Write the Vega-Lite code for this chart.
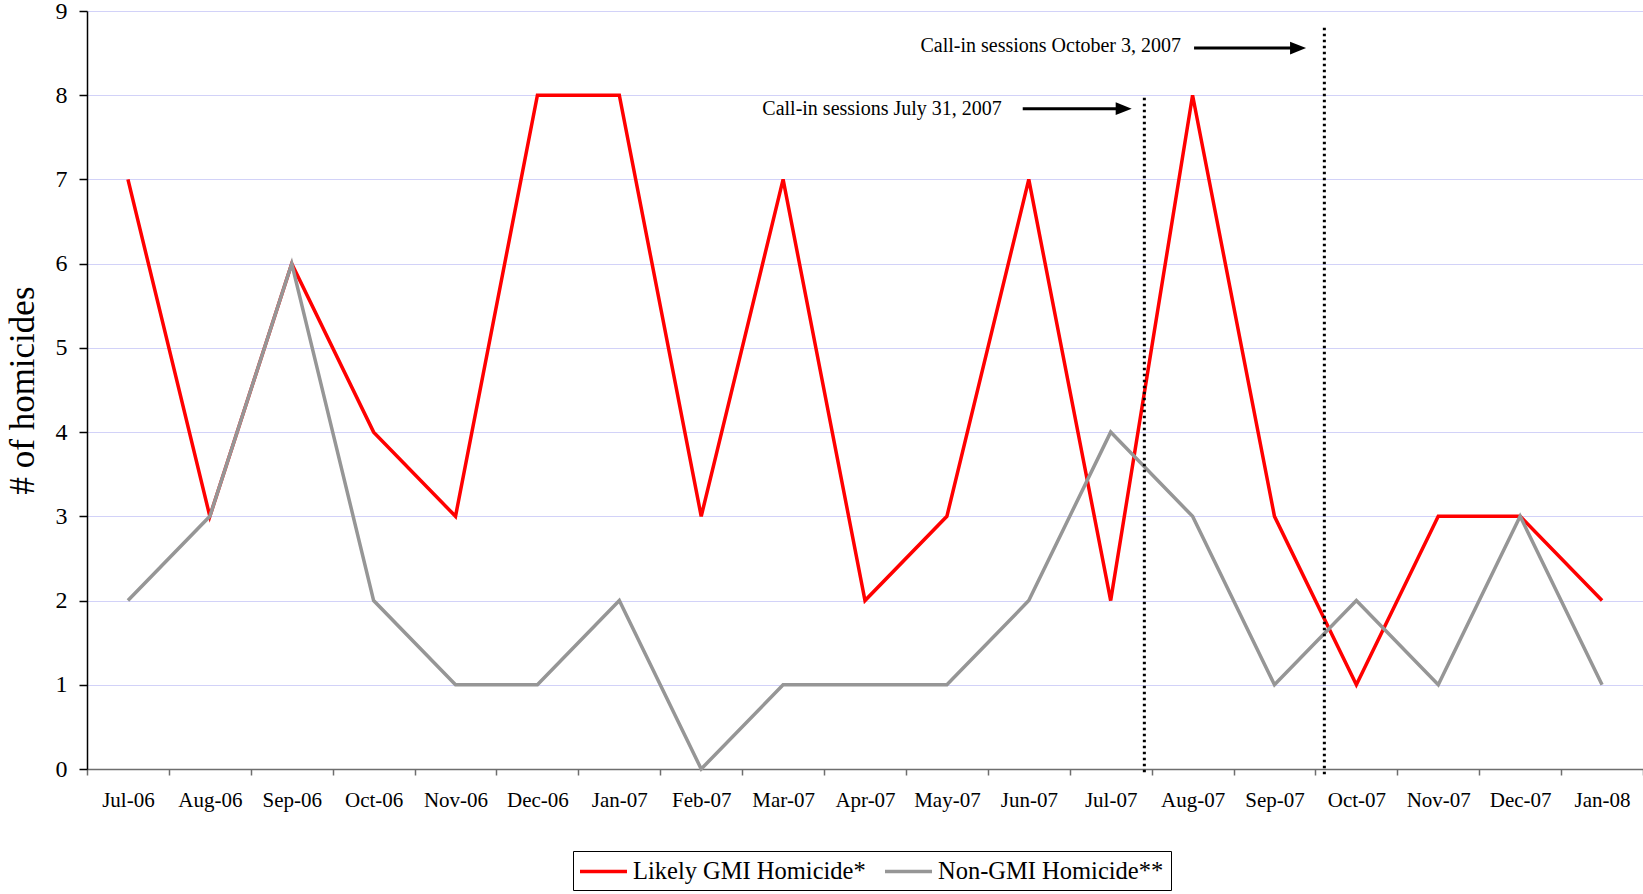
{
  "$schema": "https://vega.github.io/schema/vega-lite/v6.json",
  "width": 1556,
  "height": 758,
  "autosize": {"type": "none"},
  "padding": {"left": 87, "top": 11, "right": 0, "bottom": 125},
  "background": "white",
  "config": {"view": {"stroke": null}, "font": "Liberation Serif"},
  "datasets": {
    "counts": [
      {"month": "Jul-06", "series": "Likely GMI Homicide*", "count": 7},
      {"month": "Aug-06", "series": "Likely GMI Homicide*", "count": 3},
      {"month": "Sep-06", "series": "Likely GMI Homicide*", "count": 6},
      {"month": "Oct-06", "series": "Likely GMI Homicide*", "count": 4},
      {"month": "Nov-06", "series": "Likely GMI Homicide*", "count": 3},
      {"month": "Dec-06", "series": "Likely GMI Homicide*", "count": 8},
      {"month": "Jan-07", "series": "Likely GMI Homicide*", "count": 8},
      {"month": "Feb-07", "series": "Likely GMI Homicide*", "count": 3},
      {"month": "Mar-07", "series": "Likely GMI Homicide*", "count": 7},
      {"month": "Apr-07", "series": "Likely GMI Homicide*", "count": 2},
      {"month": "May-07", "series": "Likely GMI Homicide*", "count": 3},
      {"month": "Jun-07", "series": "Likely GMI Homicide*", "count": 7},
      {"month": "Jul-07", "series": "Likely GMI Homicide*", "count": 2},
      {"month": "Aug-07", "series": "Likely GMI Homicide*", "count": 8},
      {"month": "Sep-07", "series": "Likely GMI Homicide*", "count": 3},
      {"month": "Oct-07", "series": "Likely GMI Homicide*", "count": 1},
      {"month": "Nov-07", "series": "Likely GMI Homicide*", "count": 3},
      {"month": "Dec-07", "series": "Likely GMI Homicide*", "count": 3},
      {"month": "Jan-08", "series": "Likely GMI Homicide*", "count": 2},
      {"month": "Jul-06", "series": "Non-GMI Homicide**", "count": 2},
      {"month": "Aug-06", "series": "Non-GMI Homicide**", "count": 3},
      {"month": "Sep-06", "series": "Non-GMI Homicide**", "count": 6},
      {"month": "Oct-06", "series": "Non-GMI Homicide**", "count": 2},
      {"month": "Nov-06", "series": "Non-GMI Homicide**", "count": 1},
      {"month": "Dec-06", "series": "Non-GMI Homicide**", "count": 1},
      {"month": "Jan-07", "series": "Non-GMI Homicide**", "count": 2},
      {"month": "Feb-07", "series": "Non-GMI Homicide**", "count": 0},
      {"month": "Mar-07", "series": "Non-GMI Homicide**", "count": 1},
      {"month": "Apr-07", "series": "Non-GMI Homicide**", "count": 1},
      {"month": "May-07", "series": "Non-GMI Homicide**", "count": 1},
      {"month": "Jun-07", "series": "Non-GMI Homicide**", "count": 2},
      {"month": "Jul-07", "series": "Non-GMI Homicide**", "count": 4},
      {"month": "Aug-07", "series": "Non-GMI Homicide**", "count": 3},
      {"month": "Sep-07", "series": "Non-GMI Homicide**", "count": 1},
      {"month": "Oct-07", "series": "Non-GMI Homicide**", "count": 2},
      {"month": "Nov-07", "series": "Non-GMI Homicide**", "count": 1},
      {"month": "Dec-07", "series": "Non-GMI Homicide**", "count": 3},
      {"month": "Jan-08", "series": "Non-GMI Homicide**", "count": 1}
    ]
  },
  "encoding": {
    "x": {
      "field": "month",
      "type": "ordinal",
      "scale": {
        "type": "band",
        "domain": ["Jul-06", "Aug-06", "Sep-06", "Oct-06", "Nov-06", "Dec-06", "Jan-07", "Feb-07", "Mar-07", "Apr-07", "May-07", "Jun-07", "Jul-07", "Aug-07", "Sep-07", "Oct-07", "Nov-07", "Dec-07", "Jan-08"],
        "paddingInner": 0,
        "paddingOuter": 0
      },
      "axis": {
        "title": null,
        "labelAngle": 0,
        "labelFontSize": 21,
        "labelColor": "black",
        "labelPadding": 14,
        "tickSize": 6,
        "tickWidth": 1.5,
        "tickColor": "#6e6e6e",
        "domainColor": "#6e6e6e",
        "domainWidth": 1.5,
        "tickBand": "extent",
        "grid": false
      }
    },
    "y": {
      "field": "count",
      "type": "quantitative",
      "scale": {"domain": [0, 9], "nice": false, "zero": false},
      "axis": {
        "title": "# of homicides",
        "titleFontSize": 35,
        "titleFontWeight": "normal",
        "titleColor": "black",
        "titlePadding": 15,
        "labelFontSize": 24,
        "labelColor": "black",
        "labelPadding": 12,
        "tickSize": 8,
        "tickWidth": 1.5,
        "tickColor": "black",
        "domainColor": "black",
        "domainWidth": 1.5,
        "values": [0, 1, 2, 3, 4, 5, 6, 7, 8, 9],
        "grid": true,
        "gridColor": "#d2d2f8",
        "gridWidth": 1.2
      }
    }
  },
  "layer": [
    {
      "data": {"name": "counts"},
      "mark": {"type": "line", "strokeWidth": 3.5},
      "encoding": {
        "color": {
          "field": "series",
          "type": "nominal",
          "scale": {"domain": ["Likely GMI Homicide*", "Non-GMI Homicide**"], "range": ["#ff0000", "#969696"]},
          "legend": {
            "title": null,
            "orient": "none",
            "legendX": 486,
            "legendY": 840,
            "direction": "horizontal",
            "strokeColor": "black",
            "padding": 7,
            "symbolType": "M-2,0L2,0",
            "symbolSize": 552,
            "symbolOffset": 10,
            "symbolStrokeWidth": 3.5,
            "labelFontSize": 24.5,
            "labelColor": "black",
            "labelLimit": 500,
            "labelOffset": 16,
            "columnPadding": 12
          }
        }
      }
    },
    {
      "data": {"values": [{"month": "Jul-07", "top": 7.97, "bottom": -0.08}]},
      "mark": {"type": "rule", "strokeDash": [2.5, 3.5], "strokeWidth": 3, "color": "black"},
      "encoding": {
        "x": {"field": "month", "type": "ordinal", "bandPosition": 0.911},
        "y": {"field": "top", "type": "quantitative"},
        "y2": {"field": "bottom"}
      }
    },
    {
      "data": {"values": [{"month": "Oct-07", "top": 8.8, "bottom": -0.08}]},
      "mark": {"type": "rule", "strokeDash": [2.5, 3.5], "strokeWidth": 3, "color": "black"},
      "encoding": {
        "x": {"field": "month", "type": "ordinal", "bandPosition": 0.109},
        "y": {"field": "top", "type": "quantitative"},
        "y2": {"field": "bottom"}
      }
    },
    {
      "data": {"values": [{"month": "Jun-07", "level": 7.84, "label": "Call-in sessions July 31, 2007"}]},
      "mark": {"type": "text", "align": "right", "baseline": "middle", "fontSize": 20, "color": "black"},
      "encoding": {
        "x": {"field": "month", "type": "ordinal", "bandPosition": 0.17},
        "y": {"field": "level", "type": "quantitative"},
        "text": {"field": "label"}
      }
    },
    {
      "data": {"values": [{"month": "Aug-07", "level": 8.59, "label": "Call-in sessions October 3, 2007"}]},
      "mark": {"type": "text", "align": "right", "baseline": "middle", "fontSize": 20, "color": "black"},
      "encoding": {
        "x": {"field": "month", "type": "ordinal", "bandPosition": 0.359},
        "y": {"field": "level", "type": "quantitative"},
        "text": {"field": "label"}
      }
    },
    {
      "data": {"values": [{"month": "Jun-07", "month2": "Jul-07", "level": 7.84}]},
      "mark": {"type": "rule", "strokeWidth": 3, "color": "black"},
      "encoding": {
        "x": {"field": "month", "type": "ordinal", "bandPosition": 0.426},
        "x2": {"field": "month2", "bandPosition": 0.66},
        "y": {"field": "level", "type": "quantitative"}
      }
    },
    {
      "data": {"values": [{"month": "Aug-07", "month2": "Sep-07", "level": 8.56}]},
      "mark": {"type": "rule", "strokeWidth": 3, "color": "black"},
      "encoding": {
        "x": {"field": "month", "type": "ordinal", "bandPosition": 0.518},
        "x2": {"field": "month2", "bandPosition": 0.788},
        "y": {"field": "level", "type": "quantitative"}
      }
    },
    {
      "data": {"values": [{"month": "Jul-07", "level": 7.84}]},
      "mark": {"type": "point", "shape": "M-1,-0.8L1,0L-1,0.8Z", "size": 256, "filled": true, "opacity": 1, "color": "black", "strokeWidth": 0},
      "encoding": {
        "x": {"field": "month", "type": "ordinal", "bandPosition": 0.659},
        "y": {"field": "level", "type": "quantitative"}
      }
    },
    {
      "data": {"values": [{"month": "Sep-07", "level": 8.56}]},
      "mark": {"type": "point", "shape": "M-1,-0.8L1,0L-1,0.8Z", "size": 256, "filled": true, "opacity": 1, "color": "black", "strokeWidth": 0},
      "encoding": {
        "x": {"field": "month", "type": "ordinal", "bandPosition": 0.788},
        "y": {"field": "level", "type": "quantitative"}
      }
    }
  ]
}
